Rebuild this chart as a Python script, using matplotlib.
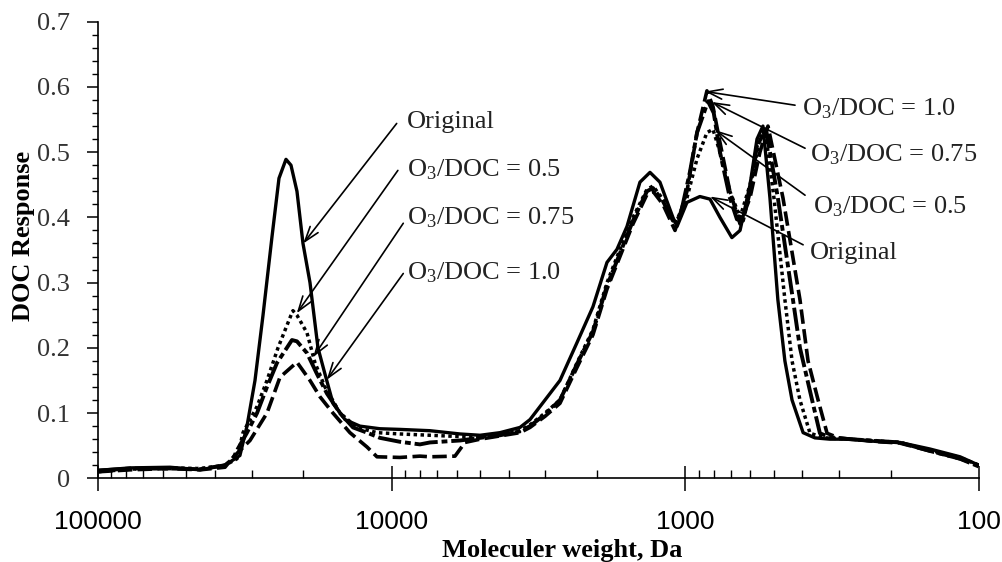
import matplotlib
matplotlib.use("Agg")
import matplotlib.pyplot as plt
from matplotlib.ticker import FixedLocator, LogLocator, NullFormatter, FuncFormatter, MultipleLocator

plt.rcParams['font.family'] = ['Liberation Serif', 'DejaVu Serif']
plt.rcParams['mathtext.fontset'] = 'custom'
plt.rcParams['mathtext.rm'] = 'Liberation Serif'
plt.rcParams['mathtext.it'] = 'Liberation Serif:italic'

# ---- data (molecular weight in Da, DOC response) ----
original_mw = [100000, 77820, 56860, 44950, 36940, 32860, 31090, 29200, 27420, 25560, 24190, 22900, 22020,
               21010, 20040, 18970, 17820, 16870, 15840, 14410, 12820, 10960, 9370, 7404, 5850, 5000, 4277,
               3656, 3380, 3005, 2672, 2338, 2063, 1848, 1709, 1580, 1427, 1319, 1220, 1102, 1067, 987, 892,
               824, 762, 694, 651, 602, 570, 544, 515, 484, 458, 433, 397, 362, 322, 275, 217, 186, 147, 116, 100]
original_resp = [.012, .016, .017, .013, .02, .035, .08, .15, .25, .37, .46, .489, .48, .44, .36, .30, .20,
                 .16, .115, .09, .08, .076, .075, .073, .068, .066, .07, .078, .09, .12, .15, .208, .263, .331,
                 .351, .386, .454, .469, .454, .40, .386, .423, .432, .428, .40, .369, .38, .45, .52, .54, .43,
                 .274, .18, .12, .07, .062, .06, .06, .056, .055, .045, .033, .02]

doc05_mw = [100000, 77820, 56860, 44950, 36940, 33620, 32080, 28740, 26580, 24380, 22020, 21680, 21010,
            19420, 18240, 16870, 14990, 13130, 11220, 9370, 7404, 5850, 5000, 4277, 3656, 3380, 3005, 2672,
            2338, 2063, 1848, 1669, 1507, 1351, 1289, 1192, 1084, 987, 912, 844, 805, 762, 705, 651, 602,
            557, 535, 499, 458, 433, 407, 376, 334, 275, 217, 186, 147, 116, 100]
doc05_resp = [.01, .014, .016, .015, .02, .03, .07, .11, .15, .20, .25, .257, .25, .223, .177, .14, .10,
              .078, .07, .068, .066, .064, .063, .067, .073, .082, .10, .12, .177, .228, .30, .351, .40,
              .443, .448, .428, .39, .43, .49, .53, .535, .50, .44, .40, .45, .52, .535, .43, .274, .18, .12,
              .069, .062, .06, .057, .055, .043, .032, .02]

doc075_mw = [100000, 77820, 56860, 44950, 36940, 34700, 33620, 31090, 28740, 26580, 24570, 21850, 21010,
             19420, 17960, 16610, 14990, 13540, 12130, 10960, 9370, 8010, 7404, 5850, 5000, 4277, 3656,
             3380, 3005, 2672, 2338, 2063, 1848, 1669, 1507, 1351, 1289, 1192, 1102, 1043, 964, 912, 837,
             800, 762, 705, 667, 636, 602, 570, 531, 484, 430, 407, 370, 348, 322, 275, 217, 186, 147, 116, 100]
doc075_resp = [.012, .015, .015, .014, .02, .03, .043, .07, .10, .14, .177, .212, .21, .192, .16, .13, .10,
               .078, .07, .062, .056, .052, .055, .058, .062, .066, .072, .08, .098, .12, .175, .225, .295,
               .345, .395, .44, .445, .425, .395, .40, .47, .53, .578, .56, .50, .43, .397, .395, .44, .51,
               .535, .43, .274, .2, .12, .069, .063, .06, .057, .055, .042, .03, .018]

doc10_mw = [100000, 77820, 56860, 44950, 36940, 34700, 30370, 26580, 24000, 21010, 18970, 17540, 15840,
            13870, 12130, 11220, 9370, 8010, 7404, 6086, 5627, 5000, 4277, 3656, 3380, 3005, 2672, 2338,
            2063, 1848, 1669, 1507, 1351, 1289, 1192, 1084, 987, 912, 844, 805, 762, 705, 651, 602, 557,
            523, 465, 407, 382, 353, 329, 300, 275, 217, 186, 147, 116, 100]
doc10_resp = [.01, .013, .015, .013, .017, .032, .058, .10, .155, .178, .15, .125, .10, .07, .048, .033,
              .032, .034, .033, .034, .055, .06, .065, .07, .078, .095, .115, .17, .22, .29, .34, .39, .435,
              .44, .42, .38, .44, .53, .594, .57, .515, .44, .39, .43, .50, .54, .43, .274, .18, .12, .069,
              .062, .06, .056, .054, .042, .03, .02]

x_tick_values = [100000, 10000, 1000, 100]
x_tick_labels = ['100000', '10000', '1000', '100']
y_tick_values = [0, 0.1, 0.2, 0.3, 0.4, 0.5, 0.6, 0.7]

label_orig = 'Original'
label_05 = 'O$_3$/DOC = 0.5'
label_075 = 'O$_3$/DOC = 0.75'
label_10 = 'O$_3$/DOC = 1.0'

# ---- figure ----
fig = plt.figure(figsize=(10.02, 5.62), dpi=100)
ax = fig.add_axes([0.0978, 0.1489, 0.8792, 0.8125])

ax.plot(original_mw, original_resp, color='black', lw=2.4, linestyle='-')
ax.plot(doc05_mw, doc05_resp, color='black', lw=2.5, linestyle=(0, (1, 1)))
ax.plot(doc075_mw, doc075_resp, color='black', lw=2.8, linestyle=(0, (6, 1, 1.5, 1)))
ax.plot(doc10_mw, doc10_resp, color='black', lw=2.6, linestyle=(0, (4, 1.5)))

ax.set_xscale('log')
ax.set_xlim(100000, 100)
ax.set_ylim(0, 0.7)

ax.xaxis.set_major_locator(FixedLocator(x_tick_values))
ax.set_xticks(x_tick_values)
ax.set_xticklabels(x_tick_labels, fontfamily='Liberation Sans', fontsize=19)
ax.xaxis.set_minor_locator(LogLocator(base=10, subs=[2, 3, 4, 5, 6, 7, 8, 9], numticks=20))
ax.xaxis.set_minor_formatter(NullFormatter())
ax.tick_params(axis='x', which='major', direction='inout', length=18, width=1.1, pad=14)
ax.tick_params(axis='x', which='minor', direction='in', length=6, width=1.0)

ax.set_yticks(y_tick_values)
ax.yaxis.set_major_formatter(FuncFormatter(lambda v, p: f'{v:g}'))
ax.yaxis.set_minor_locator(MultipleLocator(0.02))
ax.tick_params(axis='y', which='major', direction='out', length=8, width=1.1, pad=12, labelsize=19)
ax.tick_params(axis='y', which='minor', direction='out', length=4, width=1.0)
for lab in ax.get_yticklabels():
    lab.set_color('#333333')

for s in ['top', 'right']:
    ax.spines[s].set_visible(False)
for s in ['left', 'bottom']:
    ax.spines[s].set_linewidth(1.2)

ax.set_xlabel('Moleculer weight, Da', fontsize=19, fontweight='bold')
ax.set_ylabel('DOC Response', fontsize=19, fontweight='bold')
ax.xaxis.set_label_coords(0.527, -0.132)
ax.yaxis.set_label_coords(-0.072, 0.53)

# ---- annotations: (label, arrow tip, arrow start, text position) ----
arrow_kw = dict(arrowstyle='->, head_length=0.9, head_width=0.3', color='black', lw=1.2,
                shrinkA=0, shrinkB=0, mutation_scale=12)
annotations = [
    (label_orig, (20000, 0.360), (9614, 0.544), (8870, 0.546)),
    (label_05, (21050, 0.253), (9524, 0.472), (8870, 0.473)),
    (label_075, (18490, 0.186), (9129, 0.391), (8870, 0.399)),
    (label_10, (16640, 0.151), (9129, 0.314), (8870, 0.315)),
    (label_10, (857, 0.593), (423, 0.572), (402, 0.567)),
    (label_075, (813, 0.577), (391, 0.506), (376, 0.496)),
    (label_05, (793, 0.534), (391, 0.434), (367, 0.416)),
    (label_orig, (824, 0.432), (397, 0.358), (376, 0.345)),
]
for text, tip, start, tpos in annotations:
    ax.annotate('', xy=tip, xytext=start, xycoords='data', textcoords='data', arrowprops=arrow_kw)
    ax.text(tpos[0], tpos[1], text, fontsize=19, ha='left', va='center', color='#222222')

fig.savefig('out.png', dpi=100)
